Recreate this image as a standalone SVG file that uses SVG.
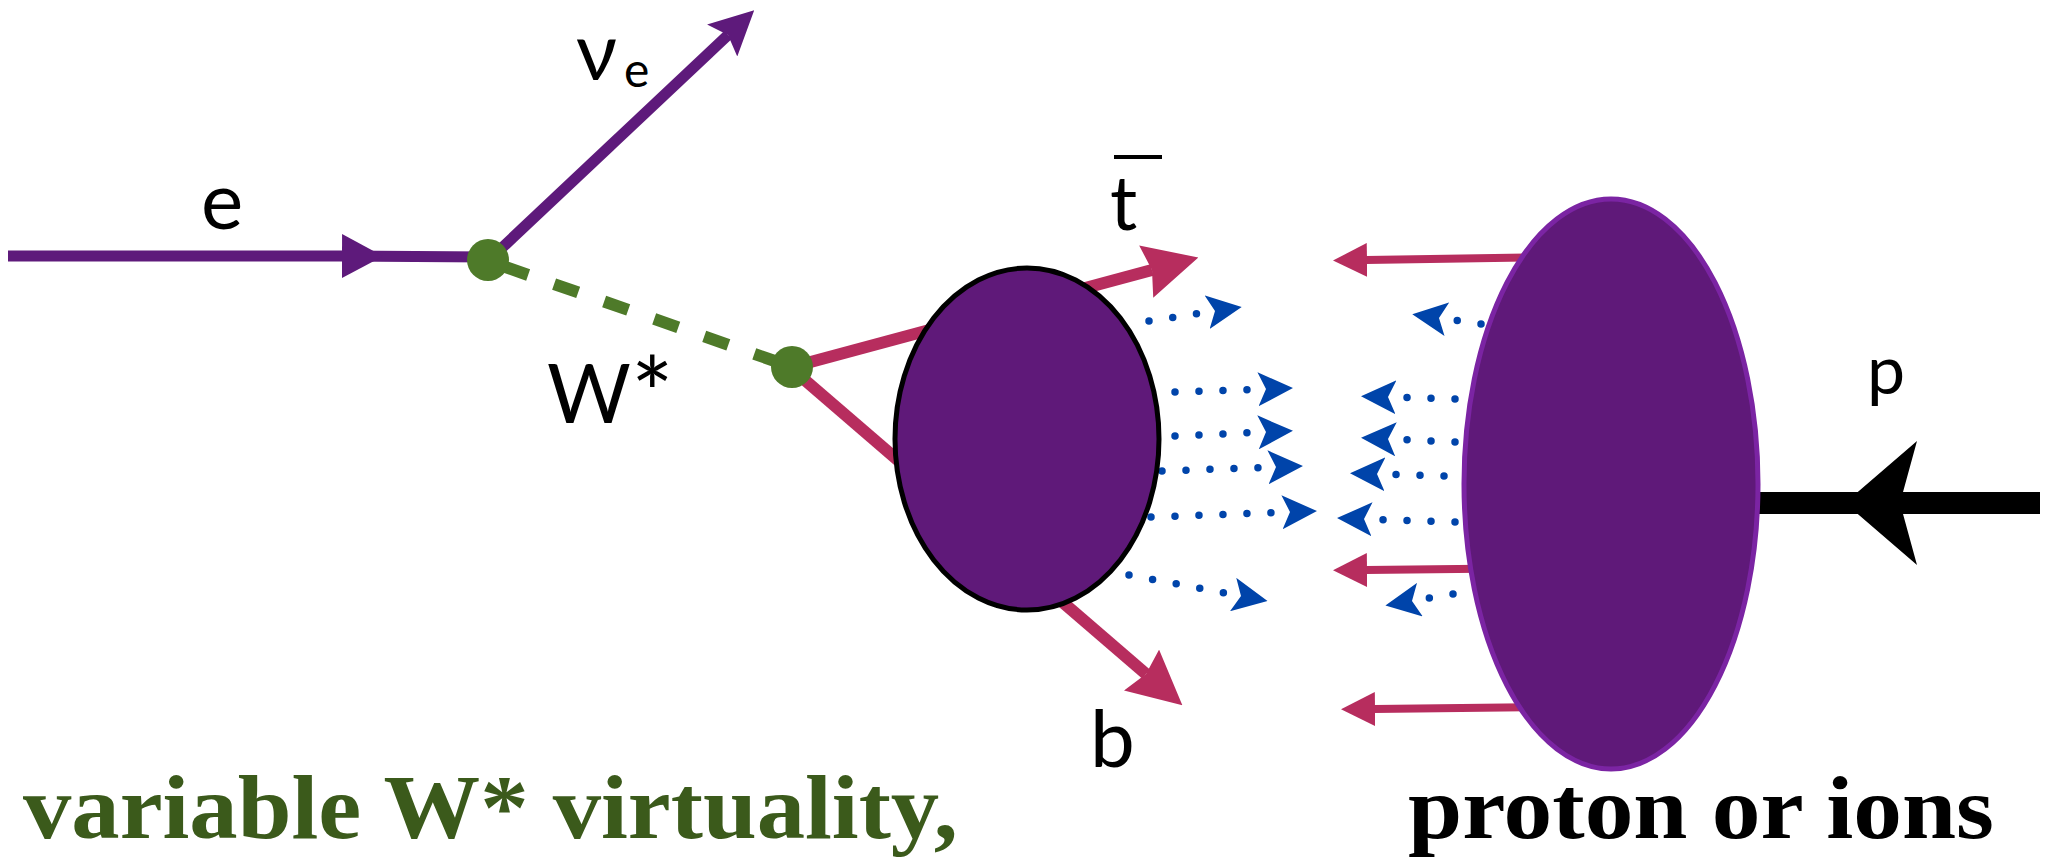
<svg xmlns="http://www.w3.org/2000/svg" width="2047" height="863" viewBox="0 0 2047 863">
<style>
.lbl{font-family:Lato,"DejaVu Sans",sans-serif;fill:#000}
.cap{font-family:"Liberation Serif","Times New Roman",serif;font-weight:bold}
.fer{stroke:#5E1A7B;stroke-width:11;fill:none}
.wst{stroke:#4E7A29;stroke-width:12;fill:none;stroke-dasharray:25.5 27.5;stroke-dashoffset:36}
.qk{stroke:#B72D5E;stroke-width:12;fill:none}
.qs{stroke:#B72D5E;stroke-width:8;fill:none}
.gl{stroke:#0044AA;stroke-width:7.5;stroke-linecap:round;stroke-dasharray:0 24;fill:none}
.vx{fill:#4E7A29}
</style>
<defs>
<marker id="mB" viewBox="0 0 35 34" refX="8" refY="17" markerWidth="35" markerHeight="34" markerUnits="userSpaceOnUse" orient="auto"><path d="M0,0 L35,17 L0,34 L8,17 Z" fill="#0044AA"/></marker>
<marker id="mQ" viewBox="0 0 54 54" refX="6" refY="27" markerWidth="54" markerHeight="54" markerUnits="userSpaceOnUse" orient="auto"><path d="M0,0 L54,27 L0,54 L6,27 Z" fill="#B72D5E"/></marker>
<marker id="mQs" viewBox="0 0 34 34" refX="1" refY="17" markerWidth="34" markerHeight="34" markerUnits="userSpaceOnUse" orient="auto"><path d="M0,0 L34,17 L0,34 Z" fill="#B72D5E"/></marker>
<marker id="mF" viewBox="0 0 44 44" refX="8" refY="22" markerWidth="44" markerHeight="44" markerUnits="userSpaceOnUse" orient="auto"><path d="M0,0 L44,22 L0,44 L8,22 Z" fill="#5E1A7B"/></marker>
<marker id="mE" viewBox="0 0 41 44" refX="0" refY="22" markerWidth="41" markerHeight="44" markerUnits="userSpaceOnUse" orient="auto"><path d="M0,0 L41,22 L0,44 Z" fill="#5E1A7B"/></marker>
<marker id="mP" viewBox="0 0 72 124" refX="17" refY="62" markerWidth="72" markerHeight="124" markerUnits="userSpaceOnUse" orient="auto"><path d="M0,0 L72,62 L0,124 L17,62 Z" fill="#000"/></marker>
</defs>

<g id="connectors">
  <path class="fer" d="M8,256 L342,256 L488,257" marker-mid="url(#mE)"/>
  <path class="fer" d="M488,261 L728,35" marker-end="url(#mF)"/>
  <path class="wst" d="M488,261 L792,367"/>
  <path class="qk" d="M792,367 L1152,270" marker-end="url(#mQ)"/>
  <path class="qk" d="M792,369 L1146,674" marker-end="url(#mQ)"/>
  <path d="M2040,503 L1900,503 L1700,503" stroke="#000" stroke-width="22" fill="none" marker-mid="url(#mP)"/>
  <path class="qs" d="M1560,257 L1366,260" marker-end="url(#mQs)"/>
  <path class="qs" d="M1560,568 L1366,570" marker-end="url(#mQs)"/>
  <path class="qs" d="M1560,707 L1374,709" marker-end="url(#mQs)"/>
  <path class="gl" d="M1149,321 L1215,311" marker-end="url(#mB)"/>
  <path class="gl" d="M1175,392 L1266,389" marker-end="url(#mB)"/>
  <path class="gl" d="M1175,436 L1266,432" marker-end="url(#mB)"/>
  <path class="gl" d="M1162,471 L1276,467" marker-end="url(#mB)"/>
  <path class="gl" d="M1151,517 L1290,512" marker-end="url(#mB)"/>
  <path class="gl" d="M1129,575 L1241,596" marker-end="url(#mB)"/>
  <path class="gl" d="M1481,324 L1439,318" marker-end="url(#mB)"/>
  <path class="gl" d="M1455,399 L1388,397" marker-end="url(#mB)"/>
  <path class="gl" d="M1455,442 L1388,439" marker-end="url(#mB)"/>
  <path class="gl" d="M1444,476 L1377,474" marker-end="url(#mB)"/>
  <path class="gl" d="M1455,522 L1364,519" marker-end="url(#mB)"/>
  <path class="gl" d="M1453,594 L1412,601" marker-end="url(#mB)"/>
</g>

<g id="top-blob"><ellipse cx="1027" cy="439" rx="132" ry="171" fill="#5F1979" stroke="#000" stroke-width="5"/></g>
<g id="proton-blob"><ellipse cx="1611" cy="484" rx="147" ry="285" fill="#5F1979" stroke="#7B24A3" stroke-width="5"/></g>
<g id="vertex-e"><circle class="vx" cx="488" cy="260" r="21"/></g>
<g id="vertex-w"><circle class="vx" cx="792" cy="367" r="21"/></g>

<g id="label-e"><text class="lbl" x="201" y="229" font-size="80">e</text></g>
<g id="label-nu"><text class="lbl" x="576" y="80" font-size="80">ν<tspan x="624" y="87" font-size="48">e</tspan></text></g>
<g id="label-w"><text class="lbl" x="547" y="423" font-size="81">W<tspan font-size="100" dy="8">*</tspan></text></g>
<g id="label-tbar"><text class="lbl" x="1110" y="230" font-size="76">t</text><line x1="1114" y1="157" x2="1162" y2="157" stroke="#000" stroke-width="4"/></g>
<g id="label-b"><text class="lbl" x="1090" y="767" font-size="80">b</text></g>
<g id="label-p"><text class="lbl" x="1867" y="394" font-size="68">p</text></g>
<g id="caption-left"><text class="cap" x="23" y="838" font-size="92" fill="#3B5A1B" textLength="935" lengthAdjust="spacingAndGlyphs">variable W* virtuality,</text></g>
<g id="caption-right"><text class="cap" x="1408" y="838" font-size="88" fill="#000" textLength="586" lengthAdjust="spacingAndGlyphs">proton or ions</text></g>
</svg>
